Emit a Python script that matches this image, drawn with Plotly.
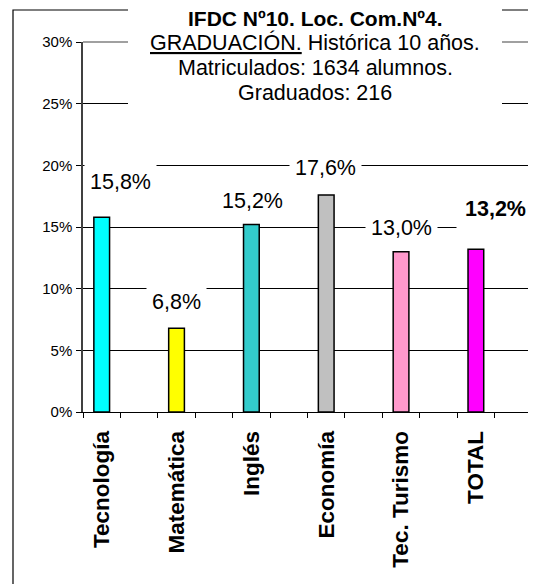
import plotly.graph_objects as go

# Graduation rate per career, percent
categories = ["Tecnología", "Matemática", "Inglés", "Economía", "Tec. Turismo", "TOTAL"]
values = [15.8, 6.8, 15.2, 17.6, 13.0, 13.2]
bar_colors = ["#00FFFF", "#FFFF00", "#33CCCC", "#C0C0C0", "#FF99CC", "#FF00FF"]
y_ticks = [0, 5, 10, 15, 20, 25, 30]

title_lines = [
    "<b>IFDC Nº10. Loc. Com.Nº4.</b>",
    "<u>GRADUACIÓN.</u> Histórica 10 años.",
    "Matriculados: 1634 alumnos.",
    "Graduados: 216",
]

# label nudges (px): (xshift, yshift above bar top)
label_shift = [(19, 35), (0, 26), (1, 24), (-1, 27), (0, 24), (20, 40)]

FONT = "Liberation Sans, Arial, sans-serif"

# the page body has an 8px margin, so work in page pixels and convert
OFF = 8
W, H = 536 - OFF, 584 - OFF
PL, PR, PT, PB = 83, 532, 42, 412   # plot area in page pixels


def px_x(px):
    return (px - PL) / (PR - PL)


def px_y(py):
    return (PB - py) / (PB - PT)


# each bar sits in every other category slot, with an empty slot after it
slots = []
for i, c in enumerate(categories):
    slots += [c, " " * (i + 1)]

fig = go.Figure()
fig.add_trace(go.Bar(
    x=categories,
    y=values,
    width=0.42,
    marker=dict(color=bar_colors, line=dict(color="#000000", width=1.5)),
    hoverinfo="skip",
))

annotations = []
for c, v, (dx, dy) in zip(categories, values, label_shift):
    txt = f"{v:.1f}%".replace(".", ",")
    pad = 5
    if c == "TOTAL":
        txt = f"<b>{txt}</b>"
        pad = 8
    annotations.append(dict(
        x=c, y=v, xref="x", yref="y", text=txt, showarrow=False,
        xshift=dx, yshift=dy, yanchor="middle",
        bgcolor="#FFFFFF", borderpad=pad,
        font=dict(family=FONT, size=21.5, color="#000000"),
    ))

# title block: one annotation per line, on a white box
title_y = [18, 43, 68, 93]
title_size = [21, 21.5, 21.5, 21.5]
for line, ty, fs in zip(title_lines, title_y, title_size):
    annotations.append(dict(
        x=px_x(315), y=px_y(ty), xref="paper", yref="paper",
        text=line, showarrow=False, xanchor="center", yanchor="middle",
        font=dict(family=FONT, size=fs, color="#000000"),
    ))

shapes = [
    # outer chart frame (runs off the right and bottom of the image)
    dict(type="rect", xref="paper", yref="paper",
         x0=px_x(13), x1=px_x(560), y0=px_y(600), y1=px_y(10),
         line=dict(color="#000000", width=1.2), layer="below"),
    # plot area top and right borders
    dict(type="line", xref="paper", yref="paper", x0=0, x1=1, y0=1, y1=1,
         line=dict(color="#808080", width=1.5), layer="above"),
    dict(type="line", xref="paper", yref="paper", x0=1, x1=1, y0=0, y1=1,
         line=dict(color="#808080", width=1.5), layer="above"),
    # white box behind the title
    dict(type="rect", xref="paper", yref="paper",
         x0=px_x(128), x1=px_x(502), y0=px_y(116), y1=px_y(0),
         fillcolor="#FFFFFF", line=dict(width=0), layer="above"),
]

fig.update_layout(
    width=W, height=H,
    margin=dict(l=PL - OFF, r=W - (PR - OFF), t=PT - OFF, b=H - (PB - OFF),
                autoexpand=False),
    paper_bgcolor="#FFFFFF",
    plot_bgcolor="#FFFFFF",
    showlegend=False,
    annotations=annotations,
    shapes=shapes,
    xaxis=dict(
        type="category",
        categoryorder="array",
        categoryarray=slots,
        range=[-0.5, len(slots) - 0.5],
        tickson="boundaries",
        ticks="outside", ticklen=5, tickcolor="#000000", tickwidth=1,
        tickangle=-90,
        ticklabelstandoff=9,
        tickfont=dict(family=FONT, size=22.5, color="#000000", weight="bold"),
        showline=True, linecolor="#000000", linewidth=1,
        showgrid=False, zeroline=False, automargin=False,
    ),
    yaxis=dict(
        range=[0, 30],
        tickmode="array",
        tickvals=y_ticks,
        ticktext=[f"{t}%" for t in y_ticks],
        ticks="outside", ticklen=5, tickcolor="#000000", tickwidth=1,
        ticklabelstandoff=1,
        tickfont=dict(family=FONT, size=15, color="#000000"),
        showline=True, linecolor="#404040", linewidth=1.5,
        showgrid=True, gridcolor="#000000", gridwidth=1,
        zeroline=False, automargin=False,
    ),
)

fig.write_html("out.html")
